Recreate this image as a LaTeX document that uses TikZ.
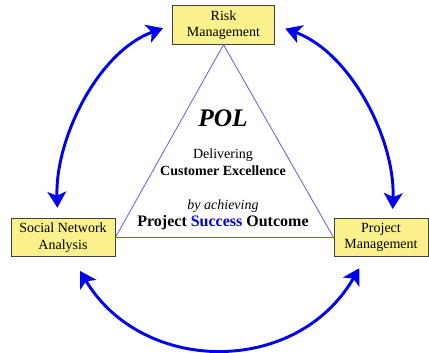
\documentclass[tikz,border=0pt]{standalone}
\usepackage{fontspec}
\setmainfont{Liberation Serif}
\usepackage{xcolor}
\usetikzlibrary{arrows.meta, positioning}
\definecolor{boxyellow}{RGB}{250,240,140}
\definecolor{triblue}{RGB}{95,95,225}
\definecolor{pureblue}{RGB}{0,0,240}

\begin{document}
\begin{tikzpicture}[x=0.75pt, y=0.75pt]
	\tikzset{box/.style={draw=black!75, fill=boxyellow, line width=0.6pt, align=center, minimum height=29pt, inner sep=2pt, font=\fontsize{10.5}{12.5}\selectfont}}
	\tikzset{arrow/.style={{Stealth[length=12pt,width=14pt,inset=3pt]}-{Stealth[length=12pt,width=14pt,inset=3pt]}, pureblue, line width=2.2pt}}
	\tikzset{tri/.style={draw=triblue, line width=0.6pt}}
	\tikzset{midtext/.style={font=\fontsize{10.5}{12}\selectfont}}

	\useasboundingbox (0,0) rectangle (429,353);

	% the three boxes
	\node (risk) [box, minimum width=77pt] at (223.5,328) {Risk\\Management};
	\node (sna) [box, minimum width=78pt] at (63,115.5) {Social Network\\Analysis};
	\node (pm) [box, minimum width=70.5pt] at (381,115.5) {Project\\Management};

	\draw[tri] (risk.south) -- (sna.east) -- (pm.west) -- cycle;

	% text inside the triangle
	\node (pol) at (223,235) {\fontsize{19}{19}\selectfont\bfseries\itshape POL};
	\node (deliv) [midtext] at (223,198) {Delivering};
	\node (excel) [midtext] at (223,182) {\bfseries Customer Excellence};
	\node (achiev) [midtext] at (223,147) {\itshape by achieving};
	\node (outcome) at (223,130) {\fontsize{12}{14}\selectfont\bfseries Project \textcolor{pureblue}{Success} Outcome};

	% arrows round the triangle
	\draw[arrow, shorten <=7pt, shorten >=7.5pt, looseness=0.9] (risk.west) to[out=200, in=92] (sna.105);
	\draw[arrow, shorten <=8pt, shorten >=6.5pt, looseness=0.9] (risk.east) to[out=-20, in=88] (pm.60);
	\draw[arrow, shorten <=12pt, shorten >=9.5pt, looseness=1.2] (sna.-66) to[out=-59, in=-120] (pm.232);
\end{tikzpicture}
\end{document}
